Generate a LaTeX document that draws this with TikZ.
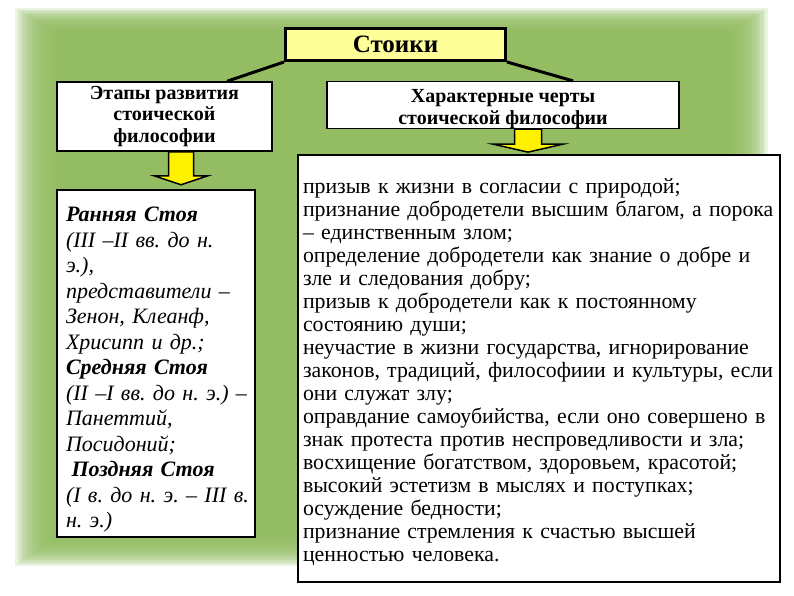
\documentclass[tikz,border=0pt]{standalone}
\usepackage{fontspec}
\setmainfont{Liberation Serif}
\usetikzlibrary{positioning}
\usetikzlibrary{calc}
\definecolor{panelgreen}{RGB}{143,186,92}
\definecolor{titleyellow}{RGB}{255,255,153}
\tikzstyle{titlebox}=[draw,line width=3pt,fill=titleyellow,minimum width=220pt,minimum height=32pt,font=\fontsize{25}{28}\selectfont\bfseries]
\tikzstyle{headbox}=[draw,line width=1.5pt,fill=white,align=center,inner ysep=0pt,font=\fontsize{20}{21.5}\selectfont\bfseries]
\tikzstyle{listbox}=[draw,line width=1.5pt,fill=white,align=left]
\tikzstyle{link}=[draw,line width=3pt]
\tikzstyle{blockarrow}=[draw,line width=1.5pt,fill=yellow,line join=miter]

\begin{document}
\frenchspacing
\begin{tikzpicture}[x=1pt,y=-1pt]
    \useasboundingbox (0,0) rectangle (794,595);
    % green panel with soft edges
    \foreach \i in {0,...,15}
        \fill[panelgreen,opacity=0.18] (15+\i*2.8,8+\i*1.6) rectangle (768-\i*2.6,566-\i*2);

    % the boxes
    \node[titlebox] (stoiki) at (395.5,44.5) {Стоики};
    \node[headbox,minimum width=215pt,minimum height=69pt] (etapy) at (164.5,116.5) {Этапы развития\\стоической\\философии};
    \node[headbox,minimum width=352pt,minimum height=44pt] (cherty) at (503,105) {\rule{0pt}{21pt}Характерные черты\\стоической философии};

    \node[listbox,inner xsep=9pt,inner ysep=2pt,text width=180pt,minimum height=347pt,font=\fontsize{22}{25.5}\selectfont\itshape] (stages) at (156,363.5) {%
        \rule{0pt}{27pt}\textbf{Ранняя Стоя}\\
        \mbox{(III –II вв. до н.}\\
        э.),\\
        \mbox{представители –}\\
        Зенон, Клеанф,\\
        Хрисипп и др.;\\
        \textbf{Средняя Стоя}\\
        \mbox{(II –I вв. до н. э.) –}\\
        Панеттий,\\
        Посидоний;\\
        \hspace*{0.25em}\textbf{Поздняя Стоя}\\
        \mbox{(I в. до н. э. – III в.}\\
        н. э.)};

    \node[listbox,inner xsep=5pt,text width=472pt,minimum height=427pt,font=\fontsize{21.8}{23}\selectfont] (traits) at (539,368.5) {%
        \rule{0pt}{21.5pt}призыв к жизни в согласии с природой;\\
        признание добродетели высшим благом, а порока\\
        – единственным злом;\\
        определение добродетели как знание о добре и\\
        зле и следования добру;\\
        призыв к добродетели как к постоянному\\
        состоянию души;\\
        неучастие в жизни государства, игнорирование\\
        законов, традиций, философиии и культуры, если\\
        они служат злу;\\
        оправдание самоубийства, если оно совершено в\\
        знак протеста против неспроведливости и зла;\\
        восхищение богатством, здоровьем, красотой;\\
        высокий эстетизм в мыслях и поступках;\\
        осуждение бедности;\\
        признание стремления к счастью высшей\\
        ценностью человека.};

    % links from the title
    \draw[link] (stoiki.south west) -- ($(etapy.north)+(62.5,0)$);
    \draw[link] (stoiki.south east) -- ($(cherty.north)+(70,0)$);

    % yellow block arrows
    \foreach \src/\o/\s/\h/\b/\t in {etapy/16.5/12.5/27/24/33, cherty/25/13.5/35/15/23}
        \draw[blockarrow] ($(\src.south)+(\o-\s,0)$) -- ++(0,\b) -- ++(-\h+\s,0) -- ++(\h,\t-\b)
            -- ++(\h,\b-\t) -- ++(-\h+\s,0) -- ++(0,-\b) -- cycle;
\end{tikzpicture}
\end{document}
